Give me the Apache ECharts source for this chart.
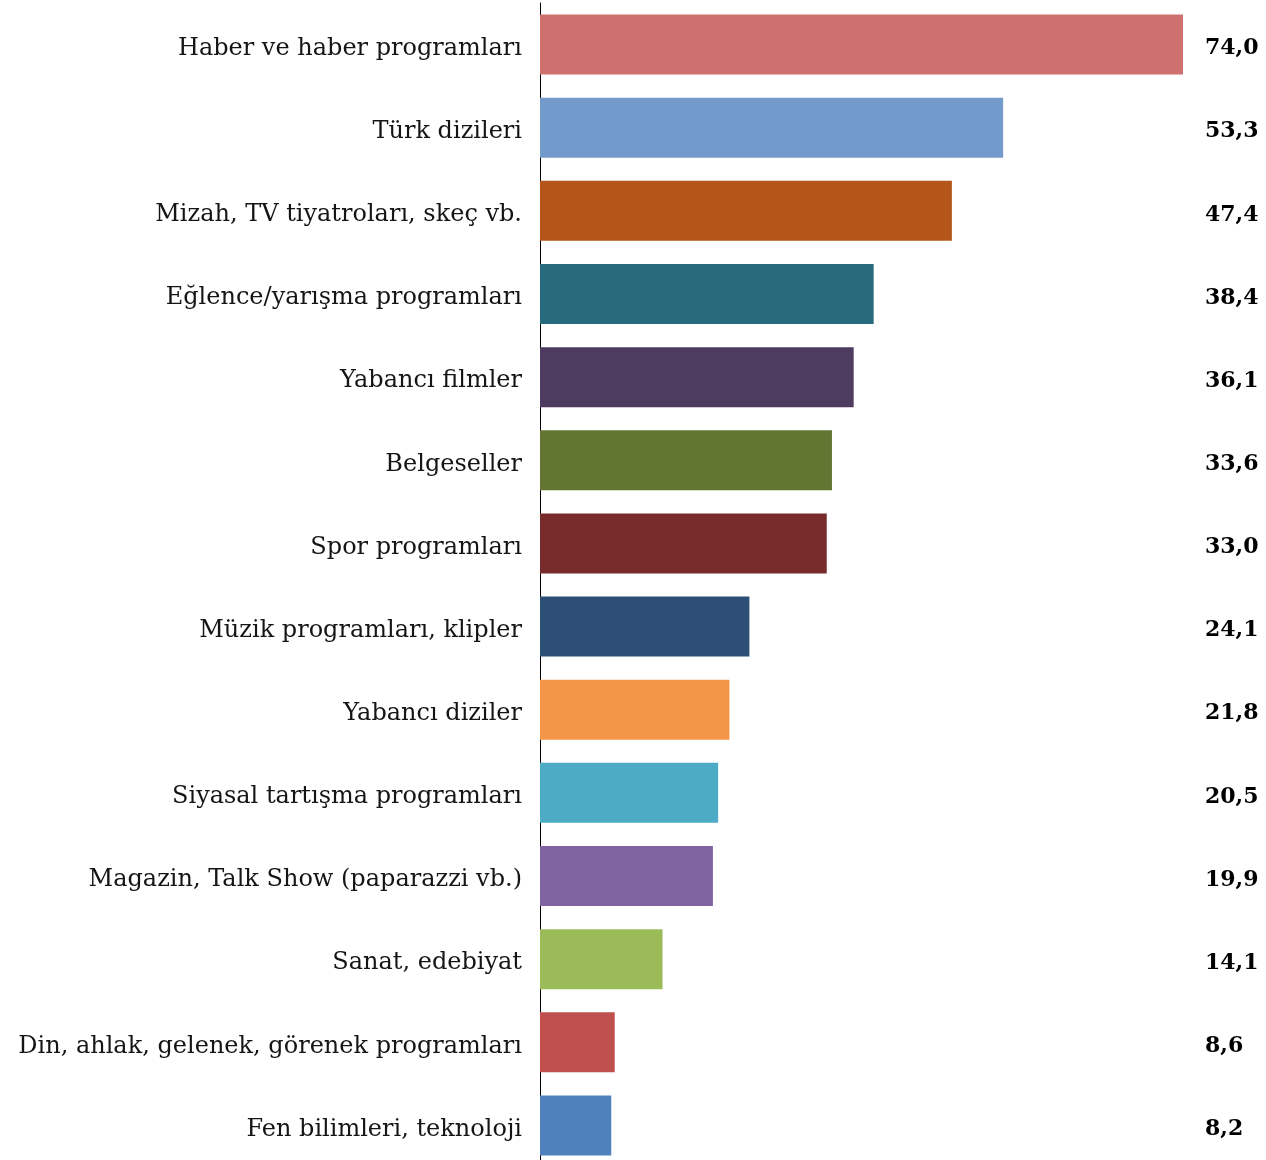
<!DOCTYPE html>
<html><head><meta charset="utf-8">
<script src="https://cdn.jsdelivr.net/npm/echarts@6/dist/echarts.min.js"></script>
<style>html,body{margin:0;padding:0;background:#fff;overflow:hidden}#c{width:1266px;height:1170px}</style>
</head><body><div id="c"></div>
<script>
const categories = ["Haber ve haber programları","Türk dizileri","Mizah, TV tiyatroları, skeç vb.","Eğlence/yarışma programları","Yabancı filmler","Belgeseller","Spor programları","Müzik programları, klipler","Yabancı diziler","Siyasal tartışma programları","Magazin, Talk Show (paparazzi vb.)","Sanat, edebiyat","Din, ahlak, gelenek, görenek programları","Fen bilimleri, teknoloji"];
const values = [74.0,53.3,47.4,38.4,36.1,33.6,33.0,24.1,21.8,20.5,19.9,14.1,8.6,8.2];
const colors = ["#CD706E","#729BCB","#B45619","#276B7C","#4E3B60","#627531","#772B2B","#2D4E75","#F39648","#4DABC6","#8064A2","#9BBB59","#C0504D","#4F81BD"];
const valueLabels = values.map(v => v.toFixed(1).replace('.', ','));
const FONT = "'DejaVu Serif'";
const chart = echarts.init(document.getElementById('c'), null, {renderer:'canvas'});
chart.setOption({
  animation:false,
  grid:{left:540, right:83, top:3, bottom:3, containLabel:false},
  xAxis:{type:'value', min:0, max:74, show:false},
  yAxis:[
    {type:'category', data:categories, inverse:true, position:'left',
     axisLine:{show:true, lineStyle:{color:'#000', width:1}}, axisTick:{show:false},
     axisLabel:{margin:18, formatter: v => '{a|' + v + '}',
       rich:{a:{fontFamily:FONT, fontSize:24, color:'#151515', padding:[8,0,0,0]}}}},
    {type:'category', data:valueLabels, inverse:true, position:'right',
     axisLine:{show:false}, axisTick:{show:false},
     axisLabel:{margin:22, align:'left', formatter: v => '{b|' + v + '}',
       rich:{b:{fontFamily:FONT, fontSize:22, fontWeight:'bold', color:'#000', padding:[8,0,0,0]}}}}
  ],
  series:[{type:'bar', yAxisIndex:0, barWidth:60,
    data:values.map((v,i)=>({value:v, itemStyle:{color:colors[i]}}))}]
});
</script></body></html>
